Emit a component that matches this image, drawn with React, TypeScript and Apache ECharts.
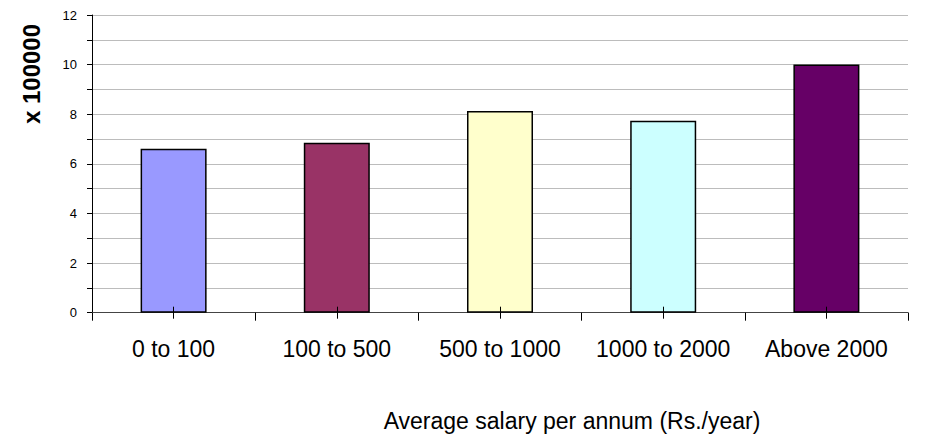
import React, { useEffect, useRef } from "react";
import * as echarts from "echarts";

const categories = ["0 to 100", "100 to 500", "500 to 1000", "1000 to 2000", "Above 2000"];
const values = [6.61, 6.85, 8.13, 7.74, 10.0];
const barColors = ["#9999FF", "#993366", "#FFFFCC", "#CCFFFF", "#660066"];
const yAxisTitle = "x 100000";
const xAxisTitle = "Average salary per annum (Rs./year)";

const FONT = "'Liberation Sans', Arial, sans-serif";

export default function App() {
  const ref = useRef<HTMLDivElement>(null);
  useEffect(() => {
    if (!ref.current) return;
    const chart = echarts.init(ref.current, undefined, { renderer: "svg" });
    const tickAxis = (inside: boolean) => ({
      type: "category",
      data: categories,
      position: "bottom",
      z: 5,
      axisLine: { show: false },
      axisTick: { show: true, alignWithLabel: true, inside, length: 6, lineStyle: { color: "#000", width: 1 } },
      axisLabel: { show: false },
      splitLine: { show: false },
    });
    chart.setOption({
      animation: false,
      backgroundColor: "#ffffff",
      grid: { left: 92, right: 19, top: 15, bottom: 124.3, containLabel: false },
      xAxis: [
        {
          type: "category",
          data: categories,
          position: "bottom",
          axisLine: { show: true, lineStyle: { color: "#444", width: 1 } },
          axisTick: { show: true, alignWithLabel: false, length: 8, lineStyle: { color: "#000", width: 1 } },
          axisLabel: { color: "#000", fontSize: 23, fontFamily: FONT, margin: 25, lineHeight: 23, interval: 0 },
          splitLine: { show: false },
        },
        tickAxis(true),
        tickAxis(false),
      ],
      yAxis: {
        type: "value",
        min: 0,
        max: 12,
        interval: 1,
        axisLine: { show: true, lineStyle: { color: "#000", width: 1 } },
        axisTick: { show: true, length: 5, lineStyle: { color: "#000" } },
        axisLabel: {
          color: "#000",
          fontSize: 13,
          fontFamily: FONT,
          margin: 15,
          formatter: (v: number) => (v % 2 === 0 ? String(v) : ""),
        },
        splitLine: { show: true, lineStyle: { color: "#bcbcbc", width: 1 } },
      },
      series: [
        {
          type: "bar",
          xAxisIndex: 0,
          barWidth: 66,
          data: values.map((v, i) => ({
            value: v,
            itemStyle: { color: barColors[i], borderColor: "#000", borderWidth: 1.5 },
          })),
        },
      ],
      graphic: [
        {
          type: "text",
          x: 31,
          y: 74,
          rotation: Math.PI / 2,
          style: {
            text: yAxisTitle,
            font: `bold 24px ${FONT}`,
            fill: "#000",
            align: "center",
            verticalAlign: "middle",
          },
        },
        {
          type: "text",
          x: 572,
          y: 421,
          style: {
            text: xAxisTitle,
            font: `23px ${FONT}`,
            fill: "#000",
            align: "center",
            verticalAlign: "middle",
          },
        },
      ],
    });
    return () => chart.dispose();
  }, []);
  return (
    <div
      ref={ref}
      style={{ position: "fixed", left: 0, top: 0, width: 927, height: 437, background: "#fff" }}
    />
  );
}
